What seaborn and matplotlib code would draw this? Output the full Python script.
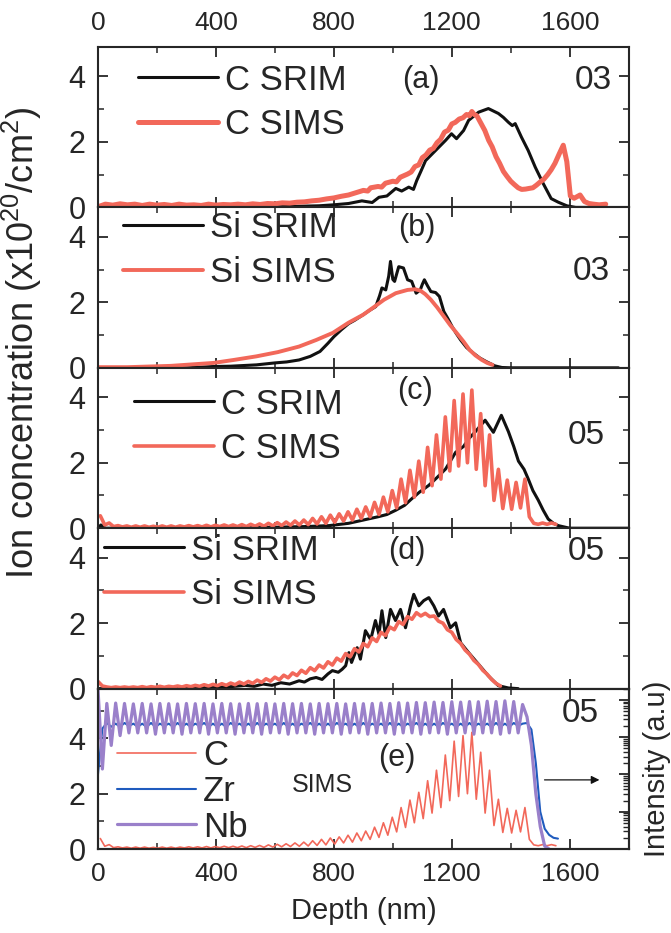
import numpy as np
import pandas as pd
import seaborn as sns
import matplotlib.pyplot as plt
from matplotlib.ticker import MultipleLocator, LogLocator, NullFormatter

sns.set_theme(style='ticks')
plt.rcParams['font.family'] = ['Liberation Sans', 'DejaVu Sans']
plt.rcParams['mathtext.fontset'] = 'custom'
plt.rcParams['mathtext.rm'] = 'Liberation Sans'
plt.rcParams['mathtext.it'] = 'Liberation Sans'

BLACK = '#111111'
RED = '#F2685A'
BLUE = '#1F5BBE'
PURPLE = '#9A80CA'

# ---- panel (a): carbon, sample 03 (depth nm, conc.) ----
c03_srim = [(0, 0), (300, 0), (500, 0.01), (600, 0.02), (700, 0.04), (750, 0.05), (800, 0.08),
            (850, 0.12), (895, 0.2), (930, 0.15), (953, 0.31), (980, 0.35), (1010, 0.58),
            (1030, 0.5), (1054, 0.62), (1070, 0.55), (1081, 0.82), (1095, 1.1), (1111, 1.43),
            (1145, 1.74), (1179, 2.05), (1199, 2.25), (1216, 2.1), (1240, 2.35), (1257, 2.66),
            (1291, 2.91), (1324, 3.02), (1358, 2.87), (1375, 2.75), (1392, 2.6), (1405, 2.5),
            (1415, 2.56), (1436, 2.15), (1459, 1.74), (1483, 1.23), (1510, 0.73), (1537, 0.27),
            (1561, 0.16), (1590, 0.05), (1620, 0), (1670, 0)]
c03_sims = [(0, 0.02), (25, 0.1), (50, 0.07), (75, 0.11), (100, 0.08), (125, 0.1), (150, 0.06),
            (175, 0.1), (200, 0.07), (225, 0.09), (250, 0.06), (275, 0.1), (300, 0.07), (325, 0.08),
            (350, 0.06), (375, 0.1), (400, 0.07), (425, 0.09), (450, 0.08), (475, 0.1), (500, 0.08),
            (525, 0.11), (550, 0.09), (575, 0.12), (600, 0.11), (625, 0.14), (650, 0.13), (675, 0.16),
            (700, 0.17), (725, 0.2), (750, 0.22), (775, 0.26), (800, 0.29), (825, 0.34), (850, 0.38),
            (875, 0.45), (900, 0.52), (915, 0.5), (925, 0.6), (950, 0.64), (962, 0.62), (975, 0.74),
            (1000, 0.8), (1012, 0.78), (1025, 0.92), (1050, 1.02), (1062, 1.08), (1075, 1.25),
            (1088, 1.3), (1100, 1.52), (1112, 1.6), (1125, 1.75), (1137, 1.8), (1150, 1.98),
            (1162, 2.08), (1175, 2.3), (1188, 2.36), (1200, 2.55), (1212, 2.6), (1225, 2.7),
            (1238, 2.74), (1250, 2.84), (1260, 2.8), (1268, 2.93), (1276, 2.84), (1285, 2.8),
            (1300, 2.55), (1312, 2.35), (1325, 2.05), (1337, 1.85), (1350, 1.55), (1362, 1.35),
            (1375, 1.1), (1387, 0.95), (1400, 0.8), (1412, 0.7), (1425, 0.6), (1437, 0.55),
            (1450, 0.56), (1462, 0.58), (1475, 0.6), (1487, 0.68), (1500, 0.78), (1512, 0.86),
            (1525, 1.0), (1537, 1.15), (1550, 1.35), (1565, 1.65), (1578, 1.9), (1590, 1.4),
            (1602, 0.35), (1615, 0.28), (1635, 0.38), (1650, 0.18), (1665, 0.12), (1680, 0.1),
            (1700, 0.08), (1722, 0.1)]

# ---- panel (b): silicon, sample 03 ----
si03_srim = [(0, 0), (300, 0), (392, 0.04), (450, 0.05), (537, 0.09), (600, 0.15), (640, 0.18),
             (682, 0.24), (720, 0.35), (753, 0.5), (780, 0.75), (800, 0.95), (825, 1.16), (850, 1.35),
             (870, 1.45), (899, 1.62), (920, 1.75), (942, 1.87), (955, 2.2), (963, 2.44), (976, 2.38),
             (986, 2.8), (992, 3.25), (1000, 2.7), (1006, 2.64), (1014, 2.9), (1020, 3.09),
             (1036, 3.05), (1050, 2.69), (1064, 2.64), (1079, 2.28), (1093, 2.38), (1100, 2.55),
             (1107, 2.69), (1118, 2.5), (1129, 2.33), (1145, 2.3), (1158, 2.18), (1173, 1.72),
             (1187, 1.5), (1201, 1.26), (1215, 1.05), (1230, 0.85), (1250, 0.62), (1273, 0.45),
             (1295, 0.3), (1317, 0.19), (1346, 0.06), (1370, 0.01), (1400, 0), (1765, 0)]
si03_sims = [(0, 0.02), (100, 0.02), (247, 0.06), (392, 0.15), (460, 0.24), (537, 0.35), (610, 0.48),
             (682, 0.65), (740, 0.85), (797, 1.07), (850, 1.38), (899, 1.62), (935, 1.85), (970, 2.08),
             (1010, 2.28), (1050, 2.38), (1075, 2.4), (1093, 2.36), (1110, 2.25), (1129, 2.08),
             (1150, 1.85), (1173, 1.57), (1195, 1.3), (1216, 1.07), (1240, 0.8), (1260, 0.55),
             (1280, 0.38), (1302, 0.24), (1320, 0.15), (1338, 0.09)]

# ---- panel (c): carbon, sample 05 ----
c05_srim = [(0, 0), (10, 0.1), (25, 0), (300, 0), (500, 0.01), (600, 0.03), (700, 0.05), (784, 0.08),
            (850, 0.15), (895, 0.24), (950, 0.35), (980, 0.42), (1010, 0.55), (1040, 0.7),
            (1064, 0.9), (1090, 1.1), (1122, 1.31), (1150, 1.55), (1179, 1.81), (1213, 2.32),
            (1240, 2.5), (1257, 2.73), (1280, 2.95), (1313, 3.3), (1341, 2.93), (1368, 3.45),
            (1392, 2.95), (1410, 2.5), (1426, 2.05), (1445, 1.8), (1459, 1.51), (1475, 1.15),
            (1493, 0.86), (1510, 0.55), (1527, 0.28), (1545, 0.15), (1561, 0.08), (1600, 0), (1800, 0)]
# SIMS carbon 05, sampled every 15 nm starting at 8 nm (also shown in panel e)
c05_sims_start, c05_sims_step = 8, 15
c05_sims = [0.38, 0.1, 0.16, 0.05, 0.08, 0.04, 0.07, 0.03, 0.07, 0.03,
            0.07, 0.03, 0.06, 0.03, 0.07, 0.03, 0.07, 0.03, 0.07, 0.04,
            0.08, 0.04, 0.08, 0.04, 0.09, 0.04, 0.09, 0.05, 0.1, 0.05,
            0.1, 0.05, 0.11, 0.05, 0.12, 0.06, 0.13, 0.06, 0.15, 0.07,
            0.17, 0.08, 0.19, 0.09, 0.22, 0.1, 0.25, 0.11, 0.3, 0.13,
            0.35, 0.15, 0.4, 0.18, 0.44, 0.22, 0.5, 0.25, 0.58, 0.3,
            0.65, 0.35, 0.79, 0.42, 0.95, 0.5, 1.15, 0.62, 1.5, 0.78,
            1.77, 0.95, 2.05, 1.1, 2.47, 1.3, 2.85, 1.5, 3.4, 1.75,
            3.9, 1.9, 4.1, 2.0, 4.22, 1.8, 3.5, 1.3, 2.85, 0.85,
            1.8, 0.6, 1.47, 0.58, 1.4, 0.62, 1.5, 0.35, 0.15, 0.12,
            0.16, 0.12, 0.16, 0.12]

# ---- panel (d): silicon, sample 05 ----
si05_srim = [(0, 0), (200, 0), (300, 0.02), (400, 0.04), (450, 0.06), (500, 0.1), (530, 0.07),
             (560, 0.14), (590, 0.1), (620, 0.18), (650, 0.14), (682, 0.24), (700, 0.2), (720, 0.3),
             (740, 0.34), (760, 0.28), (780, 0.45), (795, 0.55), (815, 0.5), (828, 0.59), (840, 0.7),
             (851, 1.1), (860, 0.8), (879, 1.25), (890, 0.9), (907, 1.77), (925, 1.5), (941, 2.08),
             (953, 1.66), (963, 2.38), (976, 1.56), (992, 2.42), (1009, 2.08), (1026, 2.42),
             (1043, 1.86), (1060, 2.53), (1071, 2.88), (1088, 2.53), (1105, 2.69), (1122, 2.78),
             (1139, 2.53), (1155, 2.22), (1172, 2.42), (1195, 1.86), (1213, 2.01), (1230, 1.4),
             (1257, 1.1), (1291, 0.74), (1324, 0.39), (1358, 0.09), (1392, 0.02), (1425, 0)]
si05_sims_step = 15
si05_sims = [0.22, 0.08, 0.05, 0.03, 0.05, 0.03, 0.05, 0.03, 0.05, 0.03,
             0.06, 0.03, 0.06, 0.04, 0.07, 0.04, 0.07, 0.05, 0.08, 0.05,
             0.09, 0.06, 0.1, 0.07, 0.12, 0.08, 0.13, 0.09, 0.15, 0.1,
             0.17, 0.12, 0.2, 0.14, 0.22, 0.16, 0.26, 0.19, 0.3, 0.23,
             0.35, 0.27, 0.41, 0.33, 0.48, 0.4, 0.56, 0.47, 0.64, 0.55,
             0.72, 0.63, 0.82, 0.72, 0.93, 0.84, 1.07, 0.97, 1.22, 1.12,
             1.38, 1.28, 1.55, 1.44, 1.72, 1.62, 1.88, 1.8, 2.05, 1.96,
             2.2, 2.12, 2.32, 2.22, 2.3, 2.2, 2.22, 2.06, 2.0, 1.8,
             1.72, 1.5, 1.38, 1.18, 1.05, 0.86, 0.74, 0.56, 0.44, 0.28,
             0.16, 0.08]

# ---- panel (e): SIMS matrix signals, intensity (a.u.) every 15 nm from 0 ----
matrix_step = 15
zr_counts = [1.0e3, 1.7e4, 2.4e4, 1.9e4, 2.3e4, 1.9e4, 2.4e4, 2.0e4, 2.3e4, 1.9e4,
             2.3e4, 1.9e4, 2.4e4, 1.9e4, 2.3e4, 2.0e4, 2.3e4, 1.9e4, 2.4e4, 1.9e4,
             2.3e4, 1.9e4, 2.3e4, 2.0e4, 2.4e4, 1.9e4, 2.3e4, 1.9e4, 2.3e4, 1.9e4,
             2.4e4, 2.0e4, 2.3e4, 1.9e4, 2.3e4, 1.9e4, 2.4e4, 1.9e4, 2.3e4, 2.0e4,
             2.3e4, 1.9e4, 2.4e4, 1.9e4, 2.3e4, 1.9e4, 2.3e4, 2.0e4, 2.4e4, 1.9e4,
             2.3e4, 1.9e4, 2.3e4, 1.9e4, 2.4e4, 2.0e4, 2.3e4, 1.9e4, 2.3e4, 1.9e4,
             2.4e4, 1.9e4, 2.3e4, 2.0e4, 2.3e4, 1.9e4, 2.4e4, 1.9e4, 2.3e4, 1.9e4,
             2.3e4, 2.0e4, 2.4e4, 1.9e4, 2.3e4, 1.9e4, 2.3e4, 1.9e4, 2.4e4, 2.0e4,
             2.3e4, 1.9e4, 2.3e4, 1.9e4, 2.4e4, 1.9e4, 2.3e4, 2.0e4, 2.3e4, 1.9e4,
             2.4e4, 1.9e4, 2.3e4, 1.9e4, 2.4e4, 2.0e4, 2.3e4, 2.4e4, 1.6e4, 2.0e3,
             100, 35, 24, 20, 19]
nb_counts = [2.0e5, 1.4e3, 8.0e4, 6.0e3, 8.2e4, 1.1e4, 8.0e4, 1.3e4, 7.8e4, 1.3e4,
             8.0e4, 1.3e4, 7.8e4, 1.2e4, 8.0e4, 1.3e4, 7.9e4, 1.3e4, 7.8e4, 1.2e4,
             8.0e4, 1.3e4, 7.9e4, 1.3e4, 8.0e4, 1.2e4, 7.8e4, 1.3e4, 8.0e4, 1.3e4,
             7.9e4, 1.2e4, 7.8e4, 1.3e4, 8.0e4, 1.3e4, 7.9e4, 1.2e4, 8.0e4, 1.3e4,
             7.8e4, 1.3e4, 8.0e4, 1.2e4, 7.9e4, 1.3e4, 8.0e4, 1.3e4, 7.8e4, 1.2e4,
             8.0e4, 1.3e4, 7.9e4, 1.3e4, 8.0e4, 1.2e4, 7.8e4, 1.3e4, 8.0e4, 1.3e4,
             7.9e4, 1.2e4, 8.0e4, 1.3e4, 8.2e4, 1.3e4, 8.0e4, 1.2e4, 8.4e4, 1.3e4,
             8.2e4, 1.3e4, 8.5e4, 1.2e4, 8.4e4, 1.3e4, 8.7e4, 1.3e4, 8.5e4, 1.2e4,
             8.9e4, 1.3e4, 8.7e4, 1.3e4, 9.0e4, 1.2e4, 8.9e4, 1.3e4, 9.2e4, 1.3e4,
             9.0e4, 1.2e4, 9.4e4, 1.3e4, 9.0e4, 1.3e4, 7.5e4, 3.5e4, 6.0e3, 3.0e2,
             40, 12, 10]

panel_letters = ['(a)', '(b)', '(c)', '(d)', '(e)']
sample_ids = ['03', '03', '05', '05', '05']


def pairs_df(pairs):
    return pd.DataFrame(pairs, columns=['depth', 'conc'])


def grid_df(values, start, step):
    depth = start + step * np.arange(len(values))
    return pd.DataFrame({'depth': depth, 'conc': values})


fig, axes = plt.subplots(5, 1, figsize=(6.71, 9.33), dpi=100, sharex=True)
fig.subplots_adjust(left=0.146, right=0.937, top=0.9496, bottom=0.09, hspace=0)

# (srim, sims, srim label, sims label, sims line width)
profiles = [
    (pairs_df(c03_srim), pairs_df(c03_sims), 'C SRIM', 'C SIMS', 3.6),
    (pairs_df(si03_srim), pairs_df(si03_sims), 'Si SRIM', 'Si SIMS', 2.8),
    (pairs_df(c05_srim), grid_df(c05_sims, c05_sims_start, c05_sims_step), 'C SRIM', 'C SIMS', 2.6),
    (pairs_df(si05_srim), grid_df(si05_sims, 0, si05_sims_step), 'Si SRIM', 'Si SIMS', 2.6),
]
legend_anchor = [(0.075, 0.655), (0.048, 0.735), (0.068, 0.635), (0.012, 0.725)]
letter_pos = [(1095, 3.88), (1081, 4.27), (1074, 4.2), (1047, 4.2)]
id_pos = [(1680, 3.88), (1672, 2.93), (1657, 2.84), (1657, 4.2)]

for i, (srim, sims, lab1, lab2, lw_sims) in enumerate(profiles):
    ax = axes[i]
    sns.lineplot(data=srim, x='depth', y='conc', ax=ax, color=BLACK, lw=2.2,
                 estimator=None, sort=False, label=lab1)
    sns.lineplot(data=sims, x='depth', y='conc', ax=ax, color=RED, lw=lw_sims,
                 estimator=None, sort=False, label=lab2)
    ax.set_ylim(0, 4.9)
    ax.legend(loc='center left', bbox_to_anchor=legend_anchor[i], frameon=False, fontsize=25,
              handlelength=2.3, handletextpad=0.2, labelspacing=0.33, borderaxespad=0, borderpad=0)
    ax.text(*letter_pos[i], panel_letters[i], fontsize=22, ha='center', va='center')
    ax.text(*id_pos[i], sample_ids[i], fontsize=24, ha='center', va='center')

# panel (e)
ax = axes[4]
ax2 = ax.twinx()
c_e = grid_df(c05_sims, c05_sims_start, c05_sims_step)
sns.lineplot(data=c_e, x='depth', y='conc', ax=ax, color=RED, lw=1.2, estimator=None, sort=False)
ax.set_ylim(0, 5.8)
zr = grid_df(zr_counts, 0, matrix_step)
nb = grid_df(nb_counts, 0, matrix_step)
sns.lineplot(data=zr, x='depth', y='conc', ax=ax2, color=BLUE, lw=1.5, estimator=None, sort=False)
sns.lineplot(data=nb, x='depth', y='conc', ax=ax2, color=PURPLE, lw=2.3, estimator=None, sort=False)
ax2.set_yscale('log')
ax2.set_ylim(10, 2e5)
ax2.yaxis.set_major_locator(LogLocator(base=10, numticks=10))
ax2.yaxis.set_minor_locator(LogLocator(base=10, subs=np.arange(2, 10), numticks=10))
ax2.yaxis.set_major_formatter(NullFormatter())
ax2.yaxis.set_minor_formatter(NullFormatter())
ax2.tick_params(axis='y', which='major', direction='in', length=7, width=1.3)
ax2.tick_params(axis='y', which='minor', direction='in', length=4, width=1)
ax2.set_ylabel('Intensity (a.u)', fontsize=21, labelpad=7)
ax2.set_xlabel('')
for s in ax2.spines.values():
    s.set_linewidth(1.5)
handles = [ax.get_lines()[0], ax2.get_lines()[0], ax2.get_lines()[1]]
ax2.legend(handles, ['C', 'Zr', 'Nb'], loc='center left', bbox_to_anchor=(0.035, 0.36),
           frameon=False, fontsize=25, handlelength=2.3, handletextpad=0.2,
           labelspacing=0.08, borderaxespad=0, borderpad=0)
ax.text(1013, 3.3, '(e)', fontsize=22, ha='center', va='center')
ax.text(760, 2.3, 'SIMS', fontsize=18, ha='center', va='center')
ax.text(1635, 4.9, '05', fontsize=24, ha='center', va='center')
ax.annotate('', xy=(1710, 2.5), xytext=(1505, 2.5),
            arrowprops=dict(arrowstyle='-|>', color=BLACK, lw=0.9, mutation_scale=12))

for i, ax in enumerate(axes):
    ax.set_xlim(0, 1800)
    ax.xaxis.set_major_locator(MultipleLocator(400))
    ax.xaxis.set_minor_locator(MultipleLocator(200))
    ax.yaxis.set_major_locator(MultipleLocator(2))
    ax.yaxis.set_minor_locator(MultipleLocator(1))
    ax.tick_params(which='major', direction='in', length=7, width=1.3, top=True,
                   right=(i < 4), labelsize=22)
    ax.tick_params(which='minor', direction='in', length=4, width=1.1, top=True, right=(i < 4))
    ax.tick_params(axis='y', pad=9)
    ax.tick_params(axis='x', labelsize=19, pad=9, labelbottom=(i == 4), labeltop=(i == 0))
    ax.set_xlabel('')
    ax.set_ylabel('')
    for s in ax.spines.values():
        s.set_linewidth(1.5)

axes[4].set_xlabel('Depth (nm)', fontsize=21, labelpad=8)
fig.text(0.033, 1 - 343 / 933, 'Ion concentration (x10$^{20}$/cm$^{2}$)', rotation=90,
         ha='center', va='center', fontsize=26)

fig.savefig('out.png', dpi=100)
